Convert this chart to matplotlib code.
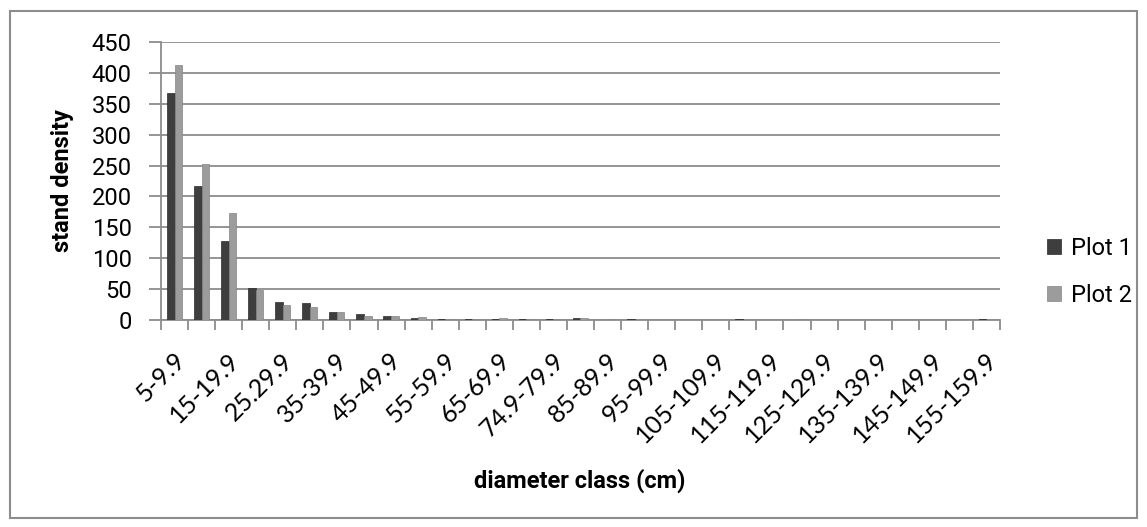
import numpy as np
import matplotlib
matplotlib.use("Agg")
import matplotlib.pyplot as plt
from matplotlib.patches import Rectangle

plt.rcParams['font.family'] = ['Roboto', 'DejaVu Sans']

# diameter classes (cm)
classes = ['5-9.9', '10-14.9', '15-19.9', '20-24.9', '25.29.9', '30-34.9',
           '35-39.9', '40-44.9', '45-49.9', '50-54.9', '55-59.9', '60-64.9',
           '65-69.9', '70-74.9', '74.9-79.9', '80-84.9', '85-89.9', '90-94.9',
           '95-99.9', '100-104.9', '105-109.9', '110-114.9', '115-119.9',
           '120-124.9', '125-129.9', '130-134.9', '135-139.9', '140-144.9',
           '145-149.9', '150-154.9', '155-159.9']

plot1 = [367, 217, 128, 52, 29, 28, 13, 10, 7, 3, 1, 2, 2, 2, 1, 4, 0, 2,
         0, 0, 0, 1, 0, 0, 0, 0, 0, 0, 0, 0, 1]
plot2 = [412, 253, 173, 48, 24, 21, 13, 7, 7, 5, 1, 2, 3, 1, 1, 4, 1, 0,
         0, 0, 0, 0, 0, 1, 0, 0, 0, 0, 0, 0, 0]

fig = plt.figure(figsize=(11.47, 5.27), dpi=100)
ax = fig.add_axes([161/1147, 1 - 320/527, (1000-161)/1147, (320-42)/527])

x = np.arange(len(classes))
w = 0.28
ax.bar(x - w/2, plot1, w, color='#3e3e3e', edgecolor='#2a2a2a', linewidth=0.5,
       label='Plot 1', zorder=3)
ax.bar(x + w/2, plot2, w, color='#9c9c9c', edgecolor='#858585', linewidth=0.5,
       label='Plot 2', zorder=3)

ax.set_xlim(-0.5, len(classes) - 0.5)
ax.set_ylim(0, 450)
ax.set_yticks(np.arange(0, 451, 50))
ax.yaxis.grid(True, color='#8c8c8c', linewidth=1.3, zorder=0)
ax.set_axisbelow(True)

ax.set_xticks(np.arange(-0.5, len(classes)))
ax.set_xticklabels([])
ax.tick_params(axis='x', length=7, color='#8c8c8c', width=1.3, direction='out')
ax.tick_params(axis='y', length=9, color='#8c8c8c', width=1.3, labelsize=17,
               pad=12)

for i in range(0, len(classes), 2):
    ax.text(i - 0.05, -46, classes[i], rotation=45, ha='right', va='top',
            rotation_mode='anchor', fontsize=18,
            family=['Lato', 'DejaVu Sans'])

for side in ['top', 'right']:
    ax.spines[side].set_visible(False)
for side in ['left', 'bottom']:
    ax.spines[side].set_color('#8c8c8c')
    ax.spines[side].set_linewidth(1.3)

fig.text(580/1147, 1 - 481/527, 'diameter class (cm)', ha='center',
         va='center', fontsize=17, fontweight='bold')
fig.text(62/1147, 1 - 181/527, 'stand density', ha='center', va='center',
         rotation=90, fontsize=17, fontweight='bold')

ax.legend(loc='center left', bbox_to_anchor=(1047/1147, 1 - 272/527),
          bbox_transform=fig.transFigure, frameon=False, borderpad=0,
          borderaxespad=0, handlelength=0.6, handleheight=0.6,
          handletextpad=0.42, labelspacing=1.0, prop={'size': 17})

fig.patches.append(Rectangle((10/1147, 9/527), 1127/1147, 507/527,
                             transform=fig.transFigure, fill=False,
                             edgecolor='#8c8c8c', linewidth=1.5))

fig.savefig('out.png', dpi=100)
